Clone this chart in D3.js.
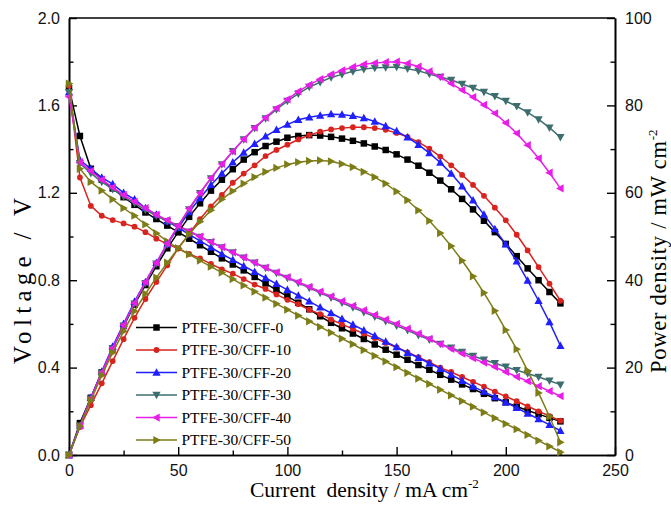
<!DOCTYPE html>
<html><head><meta charset="utf-8">
<script src="https://cdn.jsdelivr.net/npm/d3@7"></script>
<style>body{margin:0;background:#fff}svg{display:block}</style>
</head><body>
<svg id="chart" width="671" height="507"></svg>
<script>
const current = [0,5,10,15,20,25,30,35,40,45,50,55,60,65,70,75,80,85,90,95,100,105,110,115,120,125,130,135,140,145,150,155,160,165,170,175,180,185,190,195,200,205,210,215,220,225];

const seriesNames = ["PTFE-30/CFF-0","PTFE-30/CFF-10","PTFE-30/CFF-20","PTFE-30/CFF-30","PTFE-30/CFF-40","PTFE-30/CFF-50"];

const voltCFF0  = [1.68,1.46,1.31,1.26,1.22,1.18,1.145,1.11,1.08,1.05,1.02,0.99,0.96,0.93,0.90,0.872,0.845,0.815,0.785,0.755,0.726,0.697,0.667,0.635,0.605,0.58,0.556,0.531,0.506,0.482,0.459,0.436,0.412,0.39,0.367,0.345,0.323,0.302,0.28,0.26,0.241,0.222,0.204,0.187,0.17,0.154];
const voltCFF10 = [1.69,1.27,1.14,1.095,1.075,1.06,1.045,1.02,0.99,0.965,0.945,0.92,0.90,0.875,0.85,0.83,0.805,0.78,0.76,0.735,0.71,0.69,0.665,0.645,0.62,0.598,0.577,0.555,0.535,0.513,0.492,0.47,0.448,0.425,0.40,0.38,0.357,0.335,0.313,0.29,0.268,0.246,0.223,0.2,0.178,0.157];
const voltCFF20 = [1.66,1.35,1.31,1.27,1.24,1.20,1.17,1.13,1.10,1.07,1.04,1.01,0.98,0.95,0.92,0.893,0.865,0.838,0.81,0.783,0.756,0.73,0.703,0.676,0.65,0.623,0.597,0.571,0.545,0.519,0.494,0.468,0.445,0.42,0.395,0.368,0.34,0.313,0.29,0.265,0.241,0.216,0.19,0.164,0.138,0.111];
const voltCFF30 = [1.66,1.335,1.29,1.25,1.217,1.183,1.152,1.122,1.095,1.07,1.046,1.022,0.998,0.974,0.95,0.927,0.903,0.88,0.856,0.833,0.81,0.788,0.765,0.742,0.72,0.697,0.675,0.654,0.633,0.612,0.592,0.571,0.548,0.528,0.508,0.491,0.472,0.453,0.436,0.42,0.404,0.388,0.373,0.357,0.34,0.322];
const voltCFF40 = [1.64,1.34,1.30,1.26,1.225,1.19,1.16,1.13,1.10,1.075,1.05,1.025,1.0,0.975,0.951,0.927,0.904,0.881,0.858,0.836,0.814,0.792,0.77,0.748,0.726,0.704,0.683,0.662,0.641,0.62,0.60,0.578,0.556,0.532,0.508,0.486,0.464,0.443,0.423,0.403,0.38,0.358,0.338,0.315,0.292,0.27];
const voltCFF50 = [1.70,1.31,1.25,1.21,1.17,1.13,1.095,1.055,1.015,0.978,0.946,0.918,0.89,0.862,0.835,0.805,0.776,0.748,0.72,0.692,0.665,0.638,0.612,0.586,0.56,0.533,0.507,0.48,0.454,0.428,0.402,0.376,0.35,0.325,0.299,0.273,0.247,0.221,0.195,0.169,0.143,0.118,0.092,0.066,0.04,0.013];

const powerCFF0  = [0,7.3,13.1,18.9,24.4,29.5,34.4,38.9,43.2,47.3,51.0,54.5,57.6,60.5,63.0,65.4,67.6,69.3,70.7,71.7,72.6,73.0,73.2,73.1,72.8,72.4,71.9,71.3,70.6,69.8,68.8,67.6,66.2,64.6,62.8,60.8,58.6,56.2,53.6,51.0,48.3,45.5,42.7,40.0,37.3,34.7];
const powerCFF10 = [0,6.4,11.4,16.4,21.5,26.5,31.4,35.7,39.6,43.4,47.3,50.6,54.0,56.9,59.5,62.3,64.4,66.3,68.4,69.8,71.0,72.2,73.2,74.0,74.5,74.8,75.0,75.0,74.8,74.4,73.7,72.8,71.6,70.1,68.3,66.3,64.1,61.8,59.3,56.6,53.7,50.4,46.8,43.0,39.2,35.3];
const powerCFF20 = [0,6.8,13.1,19.1,24.8,30.0,35.1,39.6,44.0,48.2,52.0,55.6,58.8,61.8,64.4,67.0,69.2,71.2,72.9,74.4,75.6,76.7,77.3,77.7,78.0,77.9,77.6,77.1,76.3,75.3,74.1,72.7,71.0,69.1,66.9,64.4,61.5,58.3,55.0,51.7,48.2,44.3,39.9,35.3,30.4,25.0];
const powerCFF30 = [0,6.7,12.9,18.8,24.3,29.6,34.6,39.3,43.8,48.2,52.3,56.2,59.9,63.3,66.5,69.5,72.2,74.8,77.0,79.1,81.0,82.7,84.2,85.3,86.4,87.1,87.8,88.3,88.6,88.7,88.8,88.4,87.9,87.2,86.5,85.8,84.9,84.0,83.1,82.1,81.0,79.8,78.4,76.8,74.9,72.7];
const powerCFF40 = [0,6.7,13.0,18.9,24.5,29.8,34.8,39.6,44.0,48.4,52.5,56.4,60.0,63.4,66.6,69.5,72.3,74.9,77.2,79.4,81.4,83.2,84.7,86.0,87.1,88.0,88.8,89.4,89.7,89.9,90.0,89.6,88.9,87.8,86.5,85.0,83.5,81.9,80.1,78.2,76.0,73.6,70.9,67.9,64.6,61.0];
const powerCFF50 = [0,6.6,12.5,18.2,23.4,28.3,32.9,36.9,40.6,44.0,47.3,50.5,53.4,56.0,58.5,60.4,62.1,63.6,64.8,65.7,66.5,67.0,67.3,67.4,67.2,66.6,65.9,64.8,63.6,62.1,60.3,58.3,56.0,53.6,50.8,47.8,44.5,40.9,37.1,33.0,28.6,24.2,19.3,14.2,8.8,2.9];

const xTicks = [0,50,100,150,200,250];
const xMinorTicks = [25,75,125,175,225];
const vTicks = [0,0.4,0.8,1.2,1.6,2.0];
const vMinorTicks = [0.2,0.6,1.0,1.4,1.8];
const pTicks = [0,20,40,60,80,100];
const pMinorTicks = [10,30,50,70,90];

const voltages = [voltCFF0,voltCFF10,voltCFF20,voltCFF30,voltCFF40,voltCFF50];
const powers = [powerCFF0,powerCFF10,powerCFF20,powerCFF30,powerCFF40,powerCFF50];
const colors = ["#000000","#d8231f","#1f1fff","#3c6e6e","#e81ee8","#7d7d18"];
const shapes = ["square","circle","triUp","triDown","triLeft","triRight"];

const L = 69, R = 615, T = 18, B = 455;
const svg = d3.select("#chart");
const x = d3.scaleLinear().domain([0,250]).range([L,R]);
const yV = d3.scaleLinear().domain([0,2]).range([B,T]);
const yP = d3.scaleLinear().domain([0,100]).range([B,T]);

const sans = "'Liberation Sans', Arial, sans-serif";
const serif = "'Liberation Serif', 'Times New Roman', serif";

function styleAxis(g){
  g.select(".domain").attr("stroke","#000").attr("stroke-width",1.6);
  g.selectAll(".tick line").attr("stroke","#000").attr("stroke-width",1.4);
  g.selectAll(".tick text").attr("font-family",sans).attr("font-size",16).attr("fill","#111");
}
svg.append("g").attr("transform",`translate(0,${B})`)
  .call(d3.axisBottom(x).tickValues(xTicks).tickSize(-8).tickSizeOuter(0).tickPadding(10).tickFormat(d3.format("d"))).call(styleAxis);
svg.append("g").attr("transform",`translate(${L},0)`)
  .call(d3.axisLeft(yV).tickValues(vTicks).tickSize(-8).tickSizeOuter(0).tickPadding(9).tickFormat(d3.format(".1f"))).call(styleAxis);
svg.append("g").attr("transform",`translate(${R},0)`)
  .call(d3.axisRight(yP).tickValues(pTicks).tickSize(-8).tickSizeOuter(0).tickPadding(10).tickFormat(d3.format("d"))).call(styleAxis);
svg.append("g").attr("transform",`translate(0,${B})`)
  .call(d3.axisBottom(x).tickValues(xMinorTicks).tickSize(-4.5).tickSizeOuter(0).tickFormat("")).call(styleAxis);
svg.append("g").attr("transform",`translate(${L},0)`)
  .call(d3.axisLeft(yV).tickValues(vMinorTicks).tickSize(-4.5).tickSizeOuter(0).tickFormat("")).call(styleAxis);
svg.append("g").attr("transform",`translate(${R},0)`)
  .call(d3.axisRight(yP).tickValues(pMinorTicks).tickSize(-4.5).tickSizeOuter(0).tickFormat("")).call(styleAxis);
svg.append("line").attr("x1",L).attr("x2",R).attr("y1",T).attr("y2",T).attr("stroke","#000").attr("stroke-width",1.6);

function markerPath(shape, s){
  const h = s/2;
  switch(shape){
    case "square": return `M${-h},${-h}H${h}V${h}H${-h}Z`;
    case "circle": return d3.symbol(d3.symbolCircle, s*s*0.62)();
    case "triUp": return `M0,${-h*1.15}L${h*1.1},${h*0.85}L${-h*1.1},${h*0.85}Z`;
    case "triDown": return `M0,${h*1.15}L${h*1.1},${-h*0.85}L${-h*1.1},${-h*0.85}Z`;
    case "triLeft": return `M${-h*1.15},0L${h*0.85},${-h*1.1}L${h*0.85},${h*1.1}Z`;
    case "triRight": return `M${h*1.15},0L${-h*0.85},${-h*1.1}L${-h*0.85},${h*1.1}Z`;
  }
}
const mSize = [6.5,6.5,7.5,7.5,7.5,7.5];

const plot = svg.append("g");
function drawSeries(vals, yScale, i){
  const pts = current.map((c,k)=>[c, vals[k]]);
  const line = d3.line().x(d=>x(d[0])).y(d=>yScale(d[1]));
  plot.append("path").datum(pts).attr("d",line).attr("fill","none")
    .attr("stroke",colors[i]).attr("stroke-width",1.5);
  plot.append("g").selectAll("path").data(pts).join("path")
    .attr("transform",d=>`translate(${x(d[0])},${yScale(d[1])})`)
    .attr("d",markerPath(shapes[i], mSize[i])).attr("fill",colors[i]);
}
voltages.forEach((v,i)=>drawSeries(v,yV,i));
powers.forEach((p,i)=>drawSeries(p,yP,i));

const legY0 = 327.5, legDy = 22.5;
const leg = svg.append("g");
seriesNames.forEach((name,i)=>{
  const yy = legY0 + i*legDy;
  leg.append("line").attr("x1",136).attr("x2",177).attr("y1",yy).attr("y2",yy)
    .attr("stroke",colors[i]).attr("stroke-width",1.5);
  leg.append("path").attr("transform",`translate(156.5,${yy})`).attr("d",markerPath(shapes[i],mSize[i])).attr("fill",colors[i]);
  leg.append("text").attr("x",181.5).attr("y",yy+5).attr("font-family",serif).attr("font-size",15.5)
    .attr("fill","#000").text(name);
});

const xt = svg.append("text").attr("x",250).attr("y",497).attr("text-anchor","start")
  .attr("font-family",serif).attr("font-size",21.5).attr("fill","#000").style("white-space","pre");
xt.append("tspan").text("Current  density / mA cm");
xt.append("tspan").attr("dy",-9).attr("font-size",13).text("-2");

svg.append("text").attr("transform","translate(31,364) rotate(-90)").attr("text-anchor","start")
  .attr("font-family",serif).attr("font-size",25).attr("fill","#000")
  .attr("textLength",166).attr("lengthAdjust","spacing").text("Voltage / V");

const rt = svg.append("text").attr("transform","translate(666,373) rotate(-90)").attr("text-anchor","start")
  .attr("font-family",serif).attr("font-size",22.5).attr("fill","#000");
rt.append("tspan").attr("textLength",232).attr("lengthAdjust","spacing").text("Power density / mW cm");
rt.append("tspan").attr("dy",-9).attr("font-size",13).text("-2");
</script>
</body></html>
